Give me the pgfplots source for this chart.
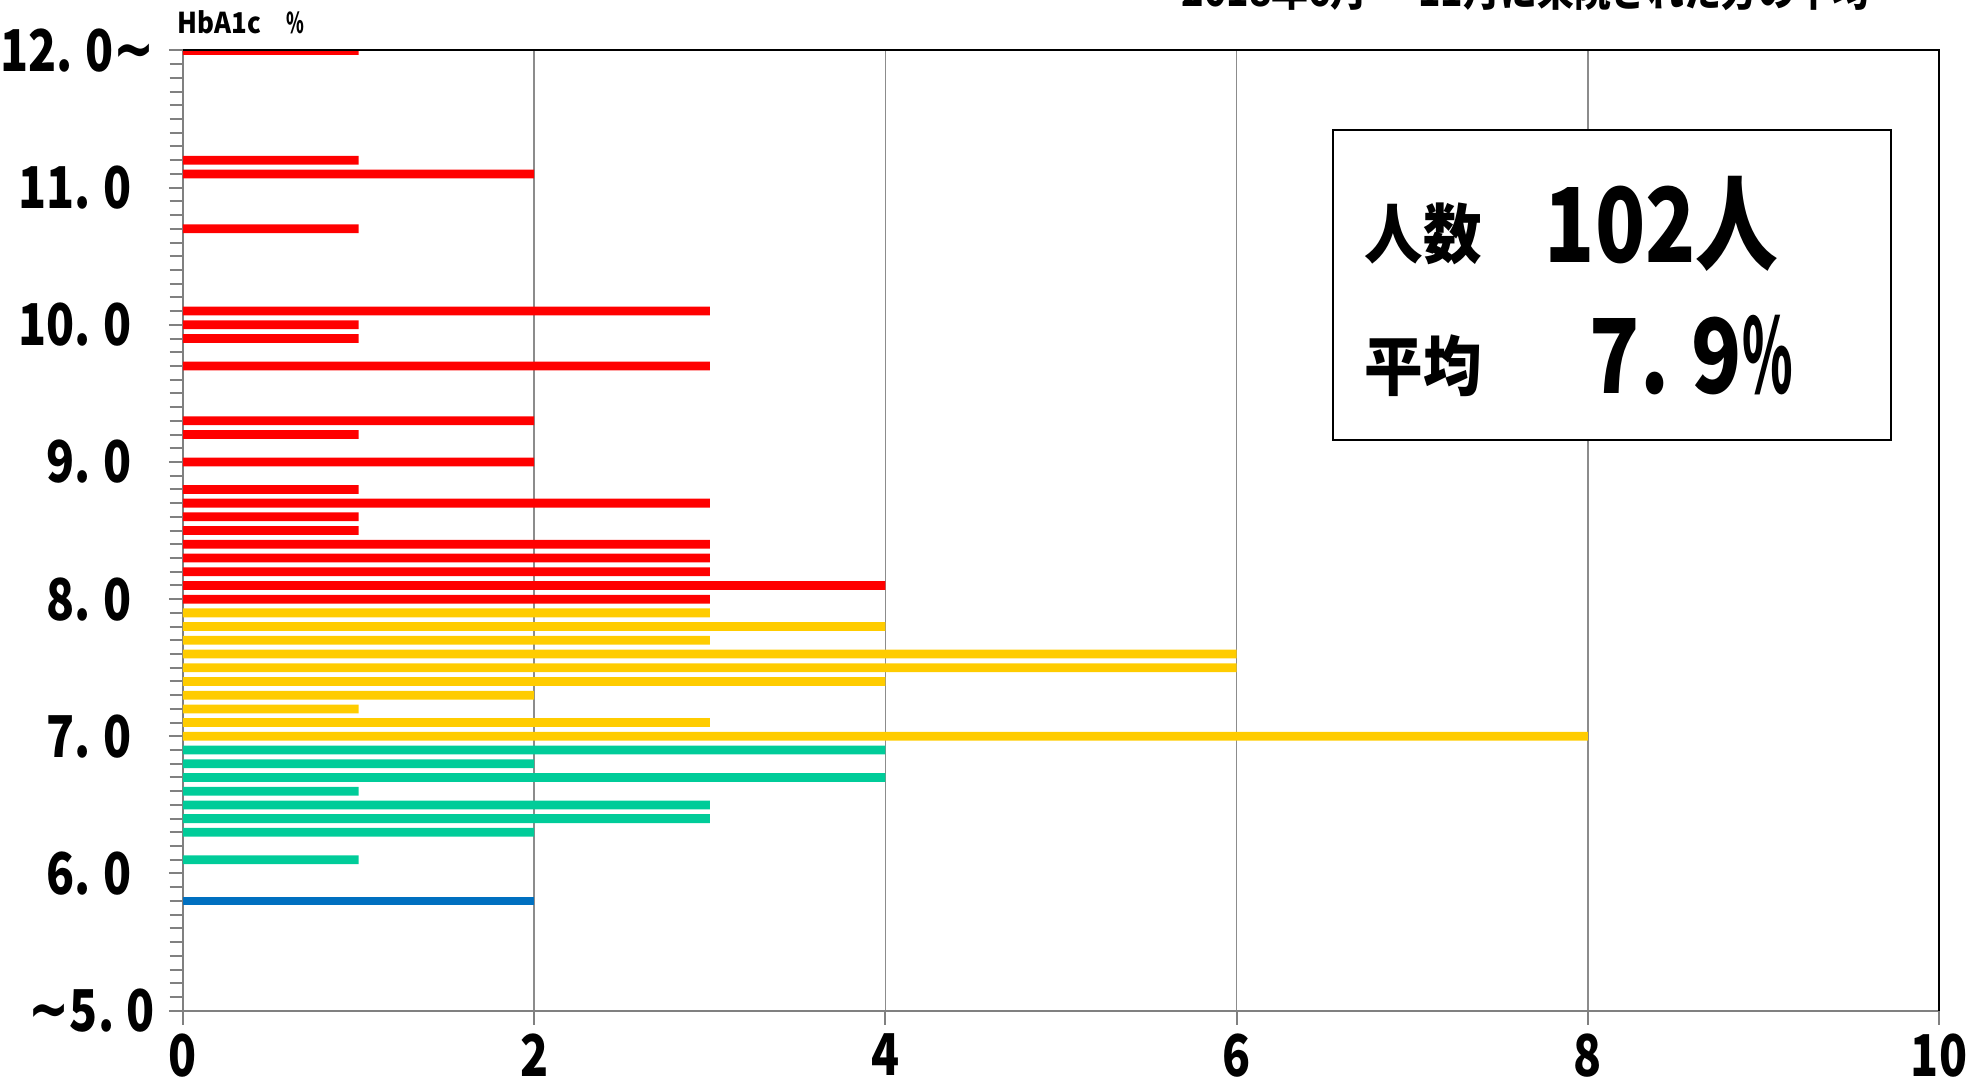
\documentclass[border=0pt]{standalone}
\usepackage{fontspec}
\usepackage{graphicx}
\usepackage{pgfplots}
\usepackage{pgfplotstable}
\pgfplotsset{compat=1.18}
\setmainfont{Noto Sans CJK JP}[FakeStretch=0.9]
\newfontfamily\narrow{Noto Sans CJK JP}[FakeStretch=0.8]
\newfontfamily\djv{DejaVu Sans}
\definecolor{cred}{HTML}{FF0000}
\definecolor{cyel}{HTML}{FFCC00}
\definecolor{cgrn}{HTML}{00CC99}
\definecolor{cblu}{HTML}{0070C0}
\newcommand\dt{.\kern0.22em}
\newcommand\tl{{\djv\bfseries\scalebox{0.85}[1.15]{∼}}}
\newcommand\tr{\kern7bp}

\pgfplotstableread{
v n
12.0 1
11.2 1
11.1 2
10.7 1
10.1 3
10.0 1
9.9 1
9.7 3
9.3 2
9.2 1
9.0 2
8.8 1
8.7 3
8.6 1
8.5 1
8.4 3
8.3 3
8.2 3
8.1 4
8.0 3
}\redtab
\pgfplotstableread{
v n
7.9 3
7.8 4
7.7 3
7.6 6
7.5 6
7.4 4
7.3 2
7.2 1
7.1 3
7.0 8
}\yeltab
\pgfplotstableread{
v n
6.9 4
6.8 2
6.7 4
6.6 1
6.5 3
6.4 3
6.3 2
6.1 1
}\grntab
\pgfplotstableread{
v n
5.8 2
}\blutab

\begin{document}
\begin{tikzpicture}
\begin{axis}[
  at={(0,0)}, anchor=south west,
  scale only axis, width=526.8bp, height=288.06bp,
  xmin=0, xmax=10, ymin=5, ymax=12,
  xtick={0,2,4,6,8,10}, xticklabels={0,2,4,6,8,10},
  ytick={5,6,7,8,9,10,11,12},
  yticklabels={{\tl 5\dt0}, {6\dt0\tr}, {7\dt0\tr}, {8\dt0\tr}, {9\dt0\tr}, {10\dt0\tr}, {11\dt0\tr}, {12\dt0\tl}},
  minor y tick num=9,
  xmajorgrids,
  grid style={draw=gray!90, line width=0.45bp},
  axis line style={draw=gray, line width=0.6bp},
  tick style={draw=gray, line width=0.6bp},
  major tick length=4.2bp, minor tick length=4bp,
  tick align=outside, xtick pos=bottom, ytick pos=left,
  tick label style={font=\narrow\bfseries\fontsize{17.3bp}{18bp}\selectfont, inner sep=0pt},
  yticklabel style={anchor=east, xshift=-4bp},
  xticklabel style={anchor=north, yshift=-2.5bp},
  clip=true,
]
\addplot[xbar, bar width=0.064, bar shift=0pt, fill=cred, draw=none] table[x=n, y=v] {\redtab};
\addplot[xbar, bar width=0.064, bar shift=0pt, fill=cyel, draw=none] table[x=n, y=v] {\yeltab};
\addplot[xbar, bar width=0.064, bar shift=0pt, fill=cgrn, draw=none] table[x=n, y=v] {\grntab};
\addplot[xbar, bar width=0.064, bar shift=0pt, fill=cblu, draw=none] table[x=n, y=v] {\blutab};
\end{axis}
\draw[black, line width=0.6bp] (0,288.06bp) -- (526.8bp,288.06bp) -- (526.8bp,0);
\draw[black, fill=white, line width=0.6bp] (345bp,171.2bp) rectangle (512.4bp,264.2bp);
\node[anchor=base west, inner sep=0pt, font=\bfseries\fontsize{19.5bp}{20bp}\selectfont] at (354.3bp,225.5bp) {人数};
\node[anchor=base west, inner sep=0pt, font=\narrow\bfseries\fontsize{31bp}{32bp}\selectfont] at (408.3bp,224.3bp) {102人};
\node[anchor=base west, inner sep=0pt, font=\bfseries\fontsize{19.5bp}{20bp}\selectfont] at (354.3bp,186bp) {平均};
\node[anchor=base west, inner sep=0pt, font=\narrow\bfseries\fontsize{31bp}{32bp}\selectfont] at (421.8bp,185bp) {7\dt9\scalebox{0.62}[1]{\%}};
\node[anchor=base west, inner sep=0pt, font=\bfseries\fontsize{8.6bp}{9bp}\selectfont] at (-1.8bp,293bp) {HbA1c\hspace{7.5bp}\scalebox{0.7}[1]{\%}};
\node[anchor=base west, inner sep=0pt, font=\bfseries\fontsize{12.3bp}{13bp}\selectfont] at (299.4bp,301.3bp) {2018年6月\,～\,11月に来院された方の平均};
\pgfresetboundingbox
\useasboundingbox (-54.9bp,-21.7bp) rectangle (539.4bp,303.2bp);
\end{tikzpicture}
\end{document}
